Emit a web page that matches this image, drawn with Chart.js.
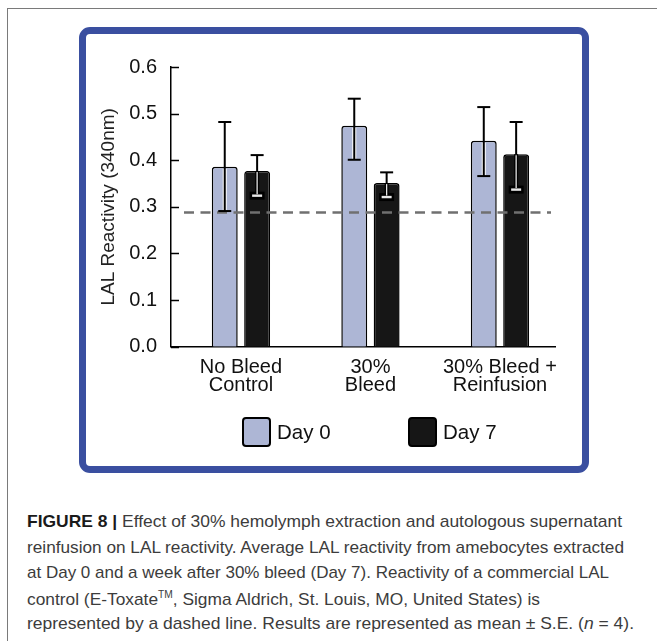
<!DOCTYPE html>
<html>
<head>
<meta charset="utf-8">
<script src="https://cdn.jsdelivr.net/npm/chart.js@4.4.1/dist/chart.umd.min.js"></script>
<style>
  html, body { margin: 0; padding: 0; background: #fff; }
  body { width: 657px; height: 641px; position: relative; overflow: hidden; font-family: "Liberation Sans", Arial, sans-serif; }
  .frameTop { position: absolute; left: 7px; top: 8px; width: 650px; height: 0; border-top: 1.5px solid #7a7a7a; }
  .frameLeft { position: absolute; left: 7px; top: 8px; width: 0; height: 633px; border-left: 1.5px solid #7a7a7a; }
  .blueBox { position: absolute; left: 79px; top: 27px; width: 510px; height: 446px; box-sizing: border-box;
             border: 7px solid #3a4fa0; border-radius: 11px; }
  #chart { position: absolute; left: 0; top: 0; }
  .leg { position: absolute; display: flex; align-items: center; font-size: 20.5px; color: #111; }
  .leg .sw { width: 29px; height: 30px; box-sizing: border-box; border: 2px solid #000; border-radius: 4px; margin-right: 6px; }
  .cap { position: absolute; left: 27px; white-space: nowrap; font-size: 17px; color: #3c3c3c; transform-origin: 0 50%; }
  .cap b { color: #1a1a1a; }
  .cap sup { font-size: 10px; }
</style>
</head>
<body>
<div class="frameTop"></div>
<div class="frameLeft"></div>
<div class="blueBox"></div>
<canvas id="chart" width="657" height="480"></canvas>
<div id="legend"></div>
<div id="caption"></div>
<script>
(function(){
'use strict';

// --- datos ---
const categorias  = [['No Bleed', 'Control'], ['30%', 'Bleed'], ['30% Bleed +', 'Reinfusion']];
const series      = ['Day 0', 'Day 7'];
const day0        = [0.386, 0.474, 0.442];
const day7        = [0.377, 0.351, 0.413];
const day0Alto    = [0.482, 0.532, 0.514];   // extremo superior barra de error
const day0Bajo    = [0.291, 0.401, 0.366];   // extremo inferior
const day7Alto    = [0.411, 0.374, 0.482];
const day7Bajo    = [0.324, 0.321, 0.337];
const controlLAL  = 0.288;                   // línea discontinua (E-Toxate)
const yTicks      = [0.0, 0.1, 0.2, 0.3, 0.4, 0.5, 0.6];
const yTitulo     = 'LAL Reactivity (340nm)';

const colores = ['#adb6d5', '#161616'];
const FONT = '"Liberation Sans", Arial, sans-serif';

const errores = [
  { alto: day0Alto, bajo: day0Bajo, hueco: false },
  { alto: day7Alto, bajo: day7Bajo, hueco: true }
];

// línea de control + barras de error
const extrasPlugin = {
  id: 'extras',
  afterDatasetsDraw(chart){
    const ctx = chart.ctx;
    const y = chart.scales.y;
    const area = chart.chartArea;

    // ticks hacia dentro en el eje Y
    ctx.save();
    ctx.strokeStyle = '#000';
    ctx.lineWidth = 1.5;
    y.ticks.forEach(t => {
      const py = Math.round(y.getPixelForValue(t.value)) + 0.5;
      ctx.beginPath();
      ctx.moveTo(area.left, py);
      ctx.lineTo(area.left + 8, py);
      ctx.stroke();
    });
    ctx.restore();

    // control discontinuo
    const yc = y.getPixelForValue(controlLAL);
    ctx.save();
    ctx.strokeStyle = '#707070';
    ctx.lineWidth = 2.5;
    ctx.setLineDash([10, 6.5]);
    ctx.beginPath();
    ctx.moveTo(area.left + 13, yc);
    ctx.lineTo(area.right - 4, yc);
    ctx.stroke();
    ctx.restore();

    // barras de error
    errores.forEach((e, d) => {
      const meta = chart.getDatasetMeta(d);
      meta.data.forEach((bar, j) => {
        const x = bar.x;
        const yt = y.getPixelForValue(e.alto[j]);
        const yb = y.getPixelForValue(e.bajo[j]);
        const ybar = bar.y;
        ctx.save();
        ctx.lineCap = 'butt';
        if (e.hueco) {
          // parte fuera de la barra: línea negra
          ctx.strokeStyle = '#000'; ctx.lineWidth = 2;
          ctx.beginPath(); ctx.moveTo(x, yt); ctx.lineTo(x, ybar); ctx.stroke();
          ctx.beginPath(); ctx.moveTo(x - 6.5, yt); ctx.lineTo(x + 6.5, yt); ctx.stroke();
          // dentro de la barra oscura: trazo hueco
          ctx.strokeStyle = '#000'; ctx.lineWidth = 4;
          ctx.beginPath(); ctx.moveTo(x, ybar); ctx.lineTo(x, yb); ctx.stroke();
          ctx.strokeRect(x - 5.5, yb - 2, 11, 4);
          ctx.fillStyle = '#e8e8e8';
          ctx.fillRect(x - 5, yb - 1.2, 10, 2.4);
          ctx.strokeStyle = '#e8e8e8'; ctx.lineWidth = 1.3;
          ctx.beginPath(); ctx.moveTo(x, ybar + 1); ctx.lineTo(x, yb - 1.5); ctx.stroke();
        } else {
          ctx.strokeStyle = '#fff'; ctx.lineWidth = 4;
          ctx.beginPath(); ctx.moveTo(x, ybar + 2); ctx.lineTo(x, yb); ctx.stroke();
          ctx.strokeStyle = '#000'; ctx.lineWidth = 2;
          ctx.beginPath(); ctx.moveTo(x, yt); ctx.lineTo(x, yb); ctx.stroke();
          ctx.beginPath(); ctx.moveTo(x - 6.5, yt); ctx.lineTo(x + 6.5, yt); ctx.stroke();
          ctx.beginPath(); ctx.moveTo(x - 6.5, yb); ctx.lineTo(x + 6.5, yb); ctx.stroke();
        }
        ctx.restore();
      });
    });
  }
};

const datos = [day0, day7];
new Chart(document.getElementById('chart'), {
  type: 'bar',
  data: {
    datasets: series.map((s, d) => ({
      label: s,
      data: datos[d].map((v, i) => ({ x: i, y: v })),
      backgroundColor: colores[d],
      borderColor: '#000',
      borderWidth: 1.5,
      borderRadius: 3,
      borderSkipped: 'bottom',
      barPercentage: 0.8,
      categoryPercentage: 0.5
    }))
  },
  options: {
    responsive: false,
    devicePixelRatio: 1,
    animation: false,
    layout: { padding: { left: 95, right: 102, top: 67, bottom: 70 } },
    plugins: { legend: { display: false }, tooltip: { enabled: false } },
    scales: {
      x: {
        type: 'linear',
        offset: false,
        bounds: 'ticks',
        min: -0.54,
        max: 2.425,
        afterBuildTicks: s => { s.ticks = categorias.map((c, i) => ({ value: i })); },
        afterFit: s => { s.height = 63.3; },
        grid: { display: false, drawTicks: false, offset: false },
        border: { display: true, color: '#000', width: 1.5 },
        ticks: {
          autoSkip: false, maxRotation: 0, padding: 12,
          color: '#111',
          font: { family: FONT, size: 20, lineHeight: 0.88 },
          callback: v => categorias[v]
        }
      },
      y: {
        min: 0,
        max: 0.6,
        afterBuildTicks: s => { s.ticks = yTicks.map(v => ({ value: v })); },
        afterFit: s => { s.width = 76; },
        grid: { display: false, drawTicks: false },
        border: { display: true, color: '#000', width: 1.5 },
        ticks: {
          padding: 14, color: '#111',
          font: { family: FONT, size: 20 },
          callback: v => v.toFixed(1)
        },
        title: {
          display: true, text: yTitulo, color: '#222',
          font: { family: FONT, size: 19 },
          padding: { top: 2, bottom: 0 }
        }
      }
    }
  },
  plugins: [extrasPlugin]
});

// leyenda
const leyenda = document.getElementById('legend');
const legX = [242, 408];
series.forEach((s, d) => {
  const el = document.createElement('div');
  el.className = 'leg';
  el.style.left = legX[d] + 'px';
  el.style.top = '417px';
  el.innerHTML = `<div class="sw" style="background:${colores[d]}"></div><span>${s}</span>`;
  leyenda.appendChild(el);
});

// pie de figura
const lineas = [
  '<b>FIGURE 8 |</b> Effect of 30% hemolymph extraction and autologous supernatant',
  'reinfusion on LAL reactivity. Average LAL reactivity from amebocytes extracted',
  'at Day 0 and a week after 30% bleed (Day 7). Reactivity of a commercial LAL',
  'control (E-Toxate<sup>TM</sup>, Sigma Aldrich, St. Louis, MO, United States) is',
  'represented by a dashed line. Results are represented as mean ± S.E. (<i>n</i> = 4).'
];
const anchos = [595, 597, 582, 513, 607];
const cap = document.getElementById('caption');
lineas.forEach((t, i) => {
  const el = document.createElement('div');
  el.className = 'cap';
  el.innerHTML = t;
  el.style.top = (512 + i * 25.5) + 'px';
  cap.appendChild(el);
  const w = el.getBoundingClientRect().width;
  el.style.transform = `scaleX(${anchos[i] / w})`;
});
})();
</script>
</body>
</html>
